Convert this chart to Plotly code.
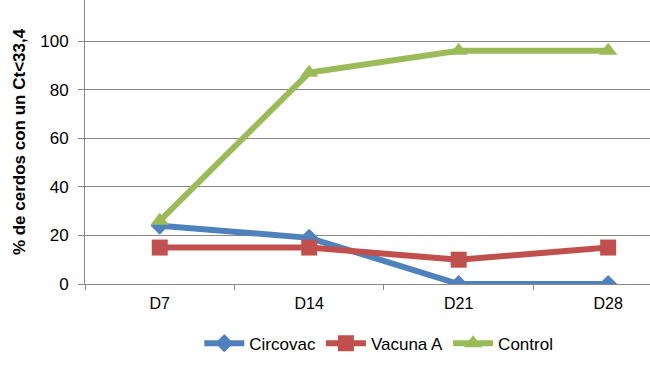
import plotly.graph_objects as go

categories = ["D7", "D14", "D21", "D28"]
circovac = [24, 19, 0, 0]
vacuna_a = [15, 15, 10, 15]
control = [26, 87, 96, 96]
y_ticks = [0, 20, 40, 60, 80, 100, 120]

fig = go.Figure()
series = [
    ("Circovac", circovac, "#4F81BD", "diamond", 14),
    ("Vacuna A", vacuna_a, "#C0504D", "square", 16),
    ("Control", control, "#9BBB59", "triangle-up", 16),
]
for name, vals, col, sym, sz in series:
    fig.add_trace(go.Scatter(
        x=categories, y=vals, name=name, mode="lines+markers",
        line=dict(color=col, width=6),
        marker=dict(symbol=sym, size=sz, color=col),
    ))

fig.update_layout(
    width=650, height=366,
    margin=dict(l=85, r=0, t=0, b=82),
    paper_bgcolor="white", plot_bgcolor="white",
    font=dict(family="Liberation Sans, Arial, sans-serif", size=16, color="#000"),
    showlegend=True,
    legend=dict(orientation="h", x=0.52, xanchor="center", y=-0.21, yanchor="middle",
                font=dict(size=17), itemwidth=40, bgcolor="rgba(0,0,0,0)"),
)
fig.update_xaxes(
    type="category", range=[-0.5, 3.28], tickson="boundaries",
    ticks="outside", ticklen=5, tickcolor="#888", showline=True, linecolor="#888",
    showgrid=False, tickfont=dict(size=16), ticklabelstandoff=5,
)
fig.update_yaxes(
    range=[0, 116.9], tickvals=y_ticks, ticks="outside", ticklen=6, tickcolor="#888",
    showline=True, linecolor="#888", showgrid=True, gridcolor="#888", gridwidth=1,
    zeroline=False, tickfont=dict(size=17), ticklabelstandoff=6,
    title=dict(text="<b>% de cerdos con un Ct<33,4</b>", font=dict(size=17), standoff=10),
)
fig.write_html("out.html", config={"displayModeBar": False},
               post_script="document.body.style.margin='0';document.body.style.overflow='hidden';")
